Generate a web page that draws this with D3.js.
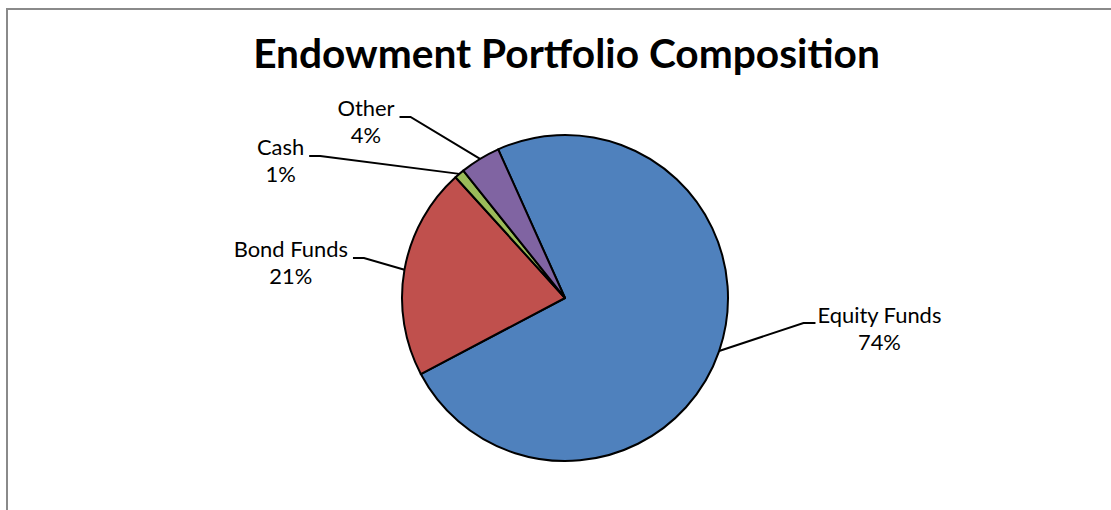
<!DOCTYPE html>
<html>
<head>
<meta charset="utf-8">
<script src="https://cdn.jsdelivr.net/npm/d3@7/dist/d3.min.js"></script>
<style>
  html, body { margin: 0; padding: 0; background: #fff; }
  svg { display: block; }
  text { font-family: Lato, "Open Sans", "Noto Sans", sans-serif; fill: #000; }
</style>
</head>
<body>
<svg id="chart" width="1111" height="510"></svg>
<script>
// ---- data ----
const title = "Endowment Portfolio Composition";
const categories = ["Equity Funds", "Bond Funds", "Cash", "Other"];
const values = [74, 21, 1, 4];
const colors = ["#4F81BD", "#C0504D", "#9BBB59", "#8064A2"];

// ---- layout (label block anchor, in units of radius from pie centre) ----
const labelLayout = [
  { side: "right", cx: 1.929, by: 0.153 },   // Equity Funds
  { side: "left",  cx: -1.682, by: -0.252 },  // Bond Funds
  { side: "left",  cx: -1.745, by: -0.877 },  // Cash
  { side: "left",  cx: -1.221, by: -1.117 }   // Other
];

const W = 1111, H = 510;
const cx = 565, cy = 298, R = 163;
const startDeg = -24.2;

const svg = d3.select("#chart");

// chart area border (right/bottom edges fall outside the picture)
svg.append("rect")
  .attr("x", 7).attr("y", 9)
  .attr("width", W + 20).attr("height", H + 20)
  .attr("fill", "#fff")
  .attr("stroke", "#8a8a8a")
  .attr("stroke-width", 2);

// title, fitted to the reference width
const t = svg.append("text")
  .attr("x", 566.5).attr("y", 68)
  .attr("text-anchor", "middle")
  .style("font-weight", "bold")
  .style("font-size", "40px")
  .text(title);
{
  const w = t.node().getComputedTextLength();
  t.style("font-size", (40 * 627 / w).toFixed(2) + "px");
}

const data = categories.map((c, i) => ({ name: c, value: values[i], color: colors[i], layout: labelLayout[i] }));

const pie = d3.pie()
  .sort(null)
  .value(d => d.value)
  .startAngle(startDeg * Math.PI / 180)
  .endAngle(startDeg * Math.PI / 180 + 2 * Math.PI);

const arcs = pie(data);
const arc = d3.arc().innerRadius(0).outerRadius(R);
const edgeArc = d3.arc().innerRadius(R).outerRadius(R);

const g = svg.append("g").attr("transform", `translate(${cx},${cy})`);

g.selectAll("path.slice")
  .data(arcs)
  .join("path")
  .attr("class", "slice")
  .attr("d", arc)
  .attr("fill", d => d.data.color)
  .attr("stroke", "#000")
  .attr("stroke-width", 2)
  .attr("stroke-linejoin", "round");

// labels
const fs0 = 24;
const total = d3.sum(values);
const labels = g.selectAll("g.label")
  .data(arcs)
  .join("g")
  .attr("class", "label");

// fit label font so "Equity Funds" matches reference width (~124px)
const probe = g.append("text").style("font-size", fs0 + "px").text("Equity Funds");
const fs = fs0 * 124 / probe.node().getComputedTextLength();
probe.remove();
const lineH = fs * 1.22;

labels.each(function(d) {
  const sel = d3.select(this);
  const L = d.data.layout;
  const bx = L.cx * R, by = L.by * R;
  const txt = sel.append("text")
    .attr("text-anchor", "middle")
    .style("font-size", fs.toFixed(2) + "px");
  txt.append("tspan").attr("x", bx).attr("y", by).text(d.data.name);
  txt.append("tspan").attr("x", bx).attr("y", by + lineH)
    .text(Math.round(d.data.value / total * 100) + "%");

  const w = txt.select("tspan").node().getComputedTextLength();
  const end = edgeArc.centroid(d);
  let p0, p1;
  if (L.side === "left") {
    p0 = [bx + w / 2 + 5, by + 1];
    p1 = [p0[0] + 11, by + 1];
  } else {
    p0 = [bx - w / 2 - 2, by];
    p1 = [p0[0] - 12, by];
  }
  sel.append("path")
    .attr("d", d3.line()([p0, p1, end]))
    .attr("fill", "none")
    .attr("stroke", "#000")
    .attr("stroke-width", 2);
});
</script>
</body>
</html>
